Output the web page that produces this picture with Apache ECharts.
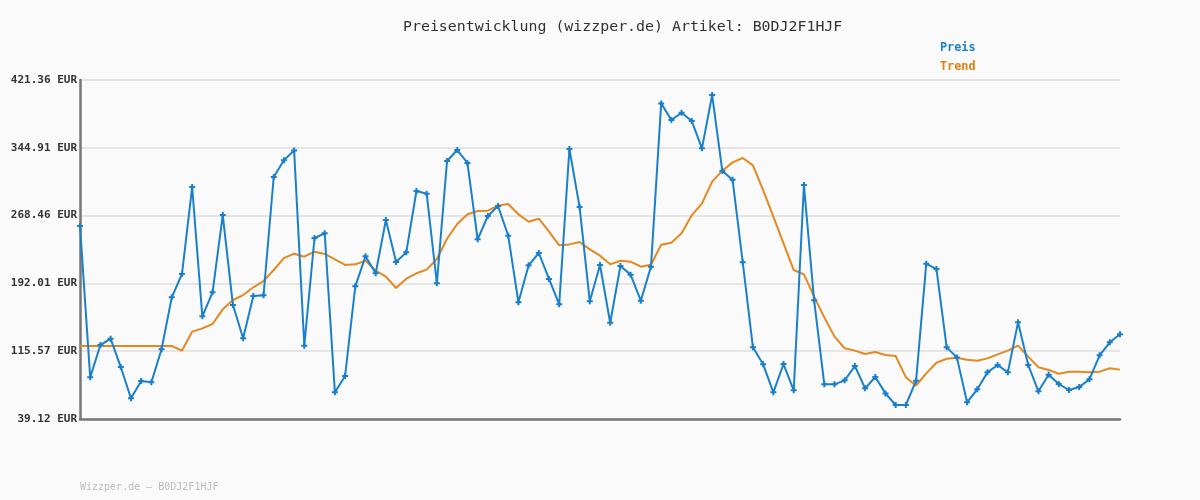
<!DOCTYPE html>
<html>
<head>
<meta charset="utf-8">
<title>Preisentwicklung</title>
<script src="https://cdn.jsdelivr.net/npm/echarts@6/dist/echarts.min.js"></script>
<style>
  html, body { margin: 0; padding: 0; background: #fafafa; }
  #chart { width: 1200px; height: 500px; }
</style>
</head>
<body>
<div id="chart"></div>
<script>
// Preis (blue) - one value per data point
var preis = [
  256.7, 86.1, 122.5, 129.7, 97.7, 62.4, 81.9, 80.5, 117.7, 176.3,
  202.6, 300.7, 154.9, 181.9, 269.1, 167.6, 130.1, 177.8, 178.6, 312.0,
  330.8, 342.0, 121.8, 243.2, 248.5, 69.2, 87.6, 188.7, 222.5, 203.4,
  263.5, 216.1, 227.0, 296.2, 293.2, 192.1, 330.0, 342.4, 327.8, 241.7,
  268.0, 279.3, 245.8, 170.7, 212.4, 226.3, 197.0, 168.4, 343.6, 278.1,
  171.8, 212.8, 147.7, 211.6, 201.9, 172.5, 210.9, 395.0, 376.3, 384.5,
  375.1, 344.3, 404.4, 318.7, 309.0, 215.8, 119.9, 100.8, 69.2, 101.1,
  71.4, 302.9, 172.9, 78.2, 78.2, 82.7, 98.9, 73.7, 86.5, 68.0,
  54.9, 54.9, 82.3, 214.3, 208.2, 119.9, 108.6, 57.9, 72.6, 91.7,
  100.0, 91.7, 148.1, 100.0, 70.3, 89.1, 78.6, 71.8, 75.2, 83.8,
  110.9, 125.6, 134.6
];

// Trend (orange)
var trend = [
  121.4, 121.4, 121.4, 121.4, 121.4, 121.4, 121.4, 121.4, 121.4, 121.4,
  116.2, 137.6, 141.3, 146.2, 162.8, 173.3, 178.9, 187.6, 194.7, 207.1,
  220.6, 225.5, 222.1, 227.8, 225.2, 219.1, 212.8, 213.5, 217.6, 206.4,
  199.6, 186.8, 197.3, 203.4, 207.5, 219.5, 242.4, 259.0, 269.9, 273.6,
  274.0, 279.7, 281.5, 269.9, 261.6, 265.0, 250.3, 234.9, 236.0, 238.7,
  230.4, 223.3, 213.5, 217.6, 216.5, 210.9, 213.1, 235.7, 237.9, 248.5,
  268.8, 282.3, 306.7, 319.1, 328.5, 333.4, 325.1, 297.3, 267.2, 237.2,
  207.1, 202.2, 177.1, 153.7, 132.0, 118.8, 116.2, 112.4, 114.7, 111.3,
  110.1, 86.1, 76.7, 90.6, 102.6, 107.1, 108.3, 106.0, 104.9, 107.5,
  112.0, 116.2, 121.8, 109.4, 97.4, 94.4, 90.2, 92.5, 92.5, 91.7,
  92.5, 96.3, 94.8
];

// y-axis ticks as in the original
var yTicks = [39.12, 115.57, 192.01, 268.46, 344.91, 421.36];

var xNames = [];
for (var i = 0; i < preis.length; i++) {
  xNames.push(String(i + 1));
}

var mono = 'DejaVu Sans Mono';

var option = {
  backgroundColor: '#fafafa',
  animation: false,
  title: [{
    text: 'Preisentwicklung (wizzper.de) Artikel: B0DJ2F1HJF',
    left: 403,
    top: 20,
    padding: 0,
    textStyle: { fontFamily: mono, fontSize: 14.9, fontWeight: 'normal', color: '#333333' }
  }, {
    text: 'Wizzper.de \u2013 B0DJ2F1HJF',
    left: 80,
    top: 482,
    padding: 0,
    textStyle: { fontFamily: mono, fontSize: 10, fontWeight: 'normal', color: '#bbbbbb' }
  }],
  legend: {
    orient: 'vertical',
    left: 935,
    top: 41,
    padding: 0,
    itemGap: 7,
    itemWidth: 0,
    itemHeight: 13,
    icon: 'none',
    selectedMode: false,
    textStyle: { fontFamily: mono, fontSize: 11.8, fontWeight: 'bold', padding: 0 },
    data: [
      { name: 'Preis', textStyle: { color: '#1a7fcb' } },
      { name: 'Trend', textStyle: { color: '#e07f10' } }
    ]
  },
  grid: { left: 80, right: 80, top: 80, bottom: 81, containLabel: false },
  xAxis: {
    type: 'category',
    data: xNames,
    boundaryGap: false,
    axisLine: { show: true, lineStyle: { color: '#777777', width: 2.5 } },
    axisTick: { show: false },
    axisLabel: { show: false },
    splitLine: { show: false }
  },
  yAxis: {
    type: 'value',
    min: 39.12,
    max: 421.36,
    axisLine: { show: true, lineStyle: { color: '#777777', width: 2.5 } },
    axisTick: { show: false, customValues: yTicks },
    axisLabel: {
      customValues: yTicks,
      fontFamily: mono,
      fontSize: 11,
      fontWeight: 'bold',
      color: '#333333',
      margin: 3,
      formatter: function (v) { return v.toFixed(2) + ' EUR'; }
    },
    splitLine: { show: true, lineStyle: { color: '#e5e5e5', width: 2 } }
  },
  series: [{
    name: 'Trend',
    type: 'line',
    data: trend,
    symbol: 'none',
    lineStyle: { color: '#e3891f', width: 2 },
    itemStyle: { color: '#e3891f' },
    z: 2
  }, {
    name: 'Preis',
    type: 'line',
    data: preis,
    symbol: 'path://M2,0H4V2H6V4H4V6H2V4H0V2H2Z',
    symbolSize: 6,
    showAllSymbol: true,
    lineStyle: { color: '#1a80cc', width: 2 },
    itemStyle: { color: '#1a7fcb' },
    z: 3
  }]
};

var chart = echarts.init(document.getElementById('chart'));
chart.setOption(option);
</script>
</body>
</html>
